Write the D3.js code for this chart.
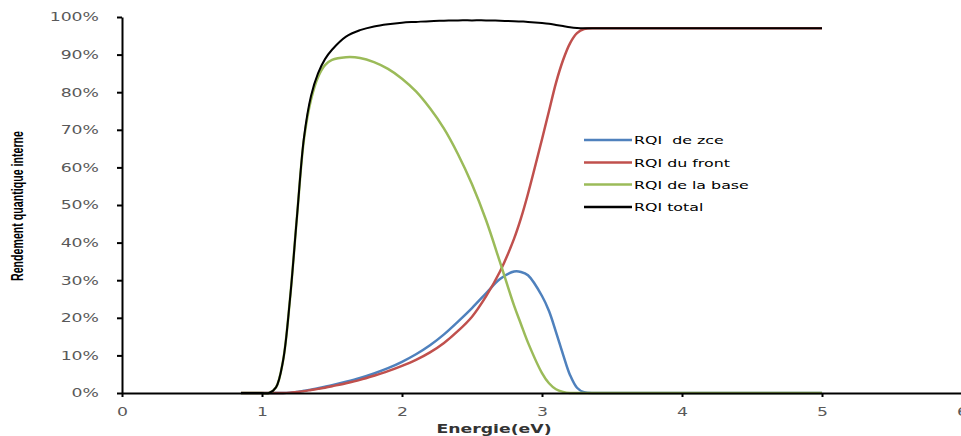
<!DOCTYPE html>
<html>
<head>
<meta charset="utf-8">
<script src="https://cdn.jsdelivr.net/npm/d3@7"></script>
<style>
  body { margin: 0; background: #fff; }
  svg { display: block; }
</style>
</head>
<body>
<div id="chart"></div>
<script>
// Energie (eV) sample points
const energy = [0.85, 0.9, 1.0, 1.05, 1.1, 1.15, 1.2, 1.25, 1.3, 1.35, 1.4, 1.45, 1.5, 1.6, 1.7, 1.8, 1.9, 2.0, 2.1, 2.2,
                2.3, 2.4, 2.5, 2.6, 2.7, 2.8, 2.85, 2.9, 3.0, 3.05, 3.1, 3.15, 3.2, 3.25, 3.3, 3.4, 3.6, 4.0, 4.5, 5.0];

// rendement quantique interne, in %
const rqiZce = [0, 0, 0, 0, 0, 0, 0.1, 0.3, 0.6, 0.9, 1.3, 1.7, 2.1, 3.0, 4.0, 5.2, 6.6, 8.3, 10.3, 12.7,
                15.6, 19, 22.6, 26.5, 30.3, 32.3, 32.2, 31.3, 25.8, 21.8, 16.2, 10.3, 4.8, 1.4, 0.2, 0, 0, 0, 0, 0];
const rqiFront = [0, 0, 0, 0, 0, 0, 0.1, 0.3, 0.5, 0.8, 1.1, 1.4, 1.8, 2.6, 3.5, 4.6, 5.8, 7.2, 8.8, 10.8,
                  13.3, 16.5, 20.3, 25.7, 32.3, 41, 46.5, 53, 67.5, 75, 82.5, 88.5, 93, 95.7, 96.8, 97, 97, 97, 97, 97];
const rqiBase = [0, 0, 0, 0, 1.5, 8.5, 25, 47, 67.5, 78, 84, 87.2, 88.6, 89.3, 89.1, 88.0, 86.2, 83.6, 80.2, 75.7,
                 70.3, 63.5, 55.5, 46.0, 34.8, 23.3, 18.3, 13.4, 5.3, 2.6, 1, 0.3, 0, 0, 0, 0, 0, 0, 0, 0];
const rqiTotal = [0, 0, 0, 0, 1.5, 8.5, 25, 47, 68, 79, 85, 88.8, 91.3, 94.8, 96.5, 97.5, 98.1, 98.5, 98.7, 98.9,
                  99, 99.1, 99.1, 99.1, 99, 98.9, 98.8, 98.7, 98.4, 98.2, 97.9, 97.6, 97.3, 97.1, 97, 97, 97, 97, 97, 97];

const seriesNames = ['RQI  de zce', 'RQI du front', 'RQI de la base', 'RQI total'];
const seriesColors = ['#4f81bd', '#c0504d', '#9bbb59', '#000000'];
const xTicks = [0, 1, 2, 3, 4, 5, 6];
const yTicks = [0, 10, 20, 30, 40, 50, 60, 70, 80, 90, 100];

const W = 961, H = 436;
const sx = 1.44; // glyphs in the picture are stretched horizontally

const svg = d3.select('#chart').append('svg')
    .attr('width', W)
    .attr('height', H);

const x = d3.scaleLinear().domain([0, 6]).range([122, 962]);
const y = d3.scaleLinear().domain([0, 100]).range([393, 17]);

// curves
const allSeries = [rqiZce, rqiFront, rqiBase, rqiTotal];
const line = d3.line()
    .x(d => x(d[0]))
    .y(d => y(d[1]))
    .curve(d3.curveCatmullRom.alpha(0.5));

allSeries.forEach((vals, i) => {
    svg.append('path')
        .datum(energy.map((e, j) => [e, vals[j]]))
        .attr('fill', 'none')
        .attr('stroke', seriesColors[i])
        .attr('stroke-width', i === 3 ? 2 : 2.5)
        .attr('d', line);
});

// y axis
const yAxis = svg.append('g')
    .attr('transform', `translate(${x(0)},0)`)
    .call(d3.axisLeft(y).tickValues(yTicks).tickFormat(d => d + '%').tickSize(5).tickSizeOuter(0));

yAxis.select('.domain').attr('stroke', '#000').attr('stroke-width', 2);
yAxis.selectAll('.tick line').attr('stroke', '#000').attr('stroke-width', 2);
yAxis.selectAll('.tick text')
    .attr('x', 0)
    .attr('transform', `translate(-23,0) scale(${sx},1)`)
    .attr('fill', '#595959')
    .style('font-family', 'DejaVu Sans, Verdana, sans-serif')
    .style('font-size', '12px');

// x axis
const xAxis = svg.append('g')
    .attr('transform', `translate(0,${y(0)})`)
    .call(d3.axisBottom(x).tickValues(xTicks).tickFormat(d3.format('d')).tickSize(4).tickSizeOuter(0));

xAxis.select('.domain').attr('stroke', '#000').attr('stroke-width', 2);
xAxis.selectAll('.tick line').attr('stroke', '#000').attr('stroke-width', 2);
xAxis.selectAll('.tick text')
    .attr('y', 14)
    .attr('transform', `scale(${sx},1)`)
    .attr('fill', '#595959')
    .style('font-family', 'DejaVu Sans, Verdana, sans-serif')
    .style('font-size', '12px');

// axis titles
svg.append('text')
    .attr('transform', `translate(494,433) scale(${sx},1)`)
    .attr('text-anchor', 'middle')
    .attr('fill', '#333')
    .style('font-family', 'DejaVu Sans, Verdana, sans-serif')
    .style('font-weight', 'bold')
    .style('font-size', '12px')
    .text('Energie(eV)');

svg.append('text')
    .attr('transform', 'translate(23,206) rotate(-90)')
    .attr('text-anchor', 'middle')
    .attr('textLength', 150)
    .attr('lengthAdjust', 'spacingAndGlyphs')
    .attr('fill', '#000')
    .style('font-family', '"Liberation Sans Narrow", "Liberation Sans", Arial, sans-serif')
    .style('font-weight', 'bold')
    .style('font-size', '17px')
    .text('Rendement quantique interne');

// legend
const legendRows = [140, 162.5, 184.5, 207];
const legend = svg.append('g');
seriesNames.forEach((name, i) => {
    legend.append('line')
        .attr('x1', 584).attr('x2', 632)
        .attr('y1', legendRows[i]).attr('y2', legendRows[i])
        .attr('stroke', seriesColors[i])
        .attr('stroke-width', 2.5);
    legend.append('text')
        .attr('transform', `translate(634,${legendRows[i] + 4}) scale(${sx},1)`)
        .attr('fill', '#000')
        .style('white-space', 'pre')
        .style('font-family', 'DejaVu Sans, Verdana, sans-serif')
        .style('font-size', '11px')
        .text(name);
});
</script>
</body>
</html>
